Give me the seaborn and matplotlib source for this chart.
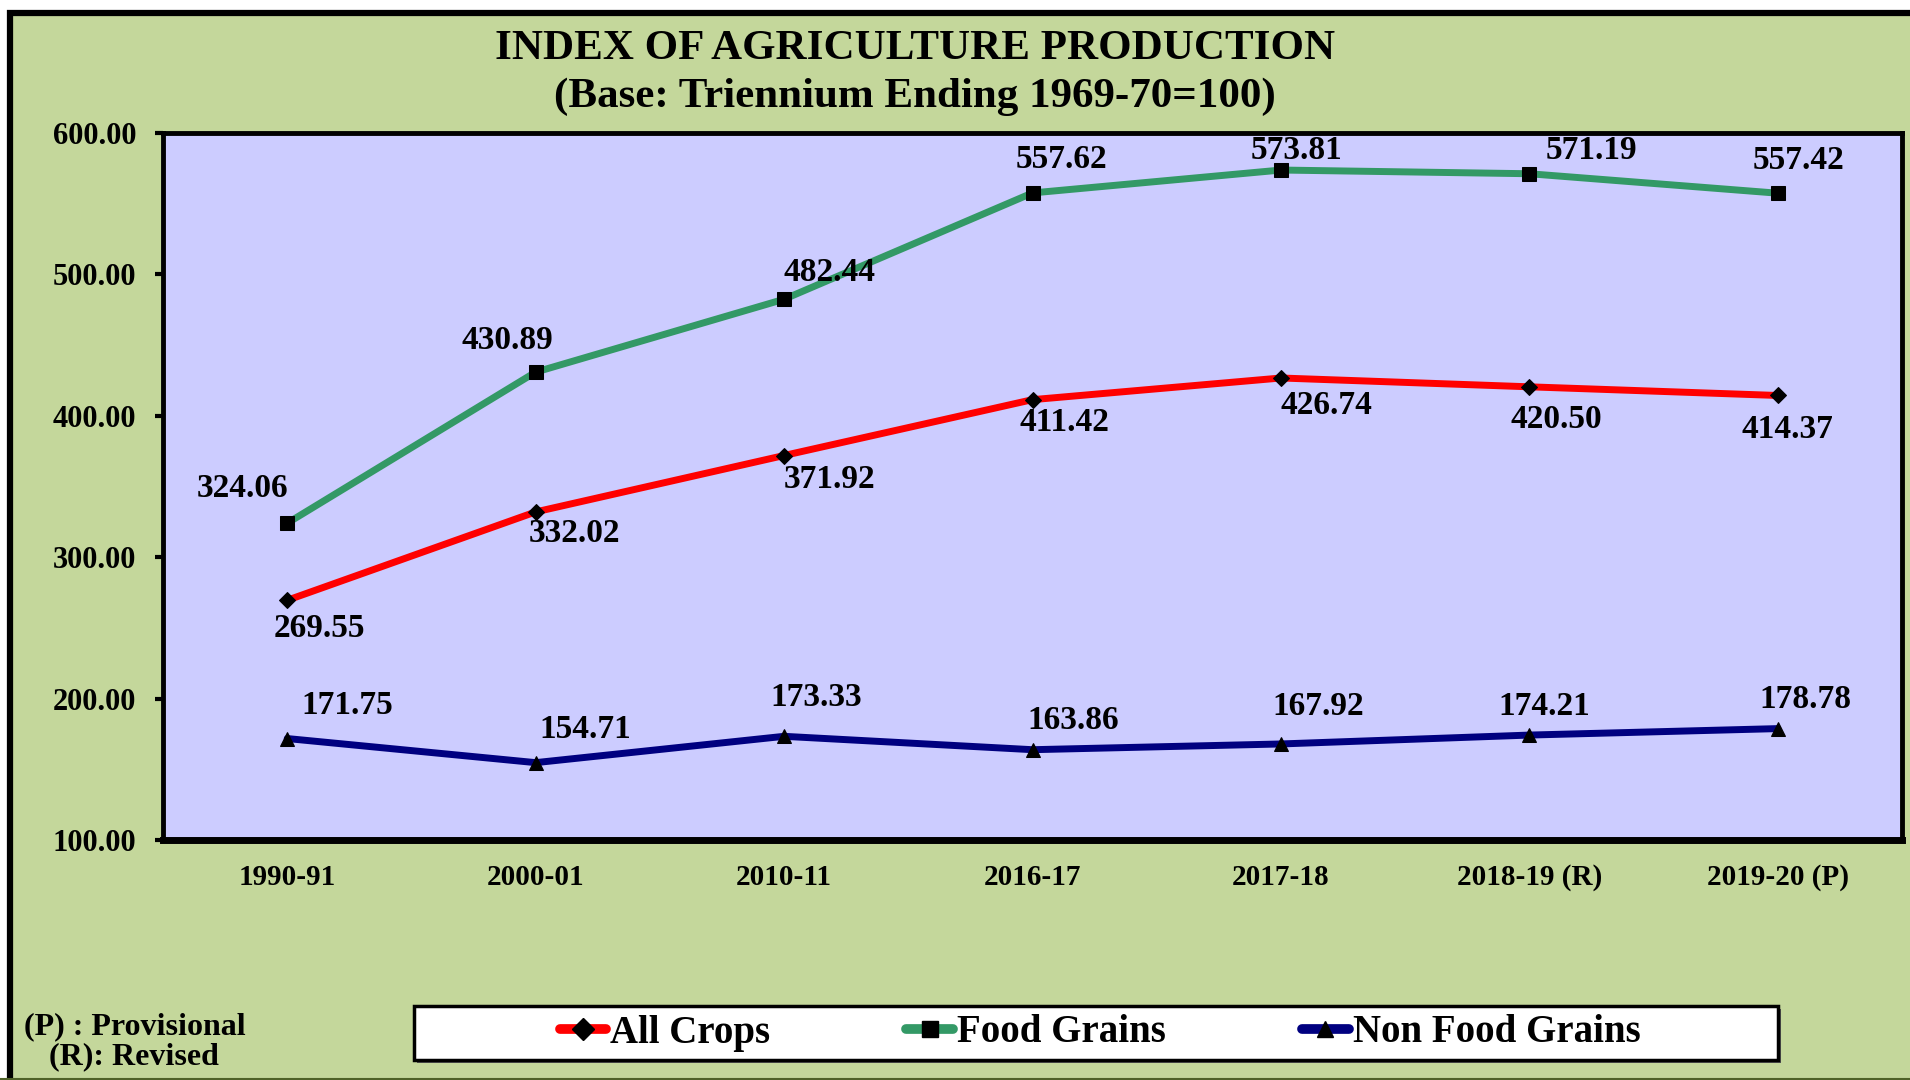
import pandas as pd
import matplotlib
matplotlib.use("Agg")
import matplotlib.pyplot as plt
import matplotlib.patches as mpatches
from matplotlib.lines import Line2D
import seaborn as sns

years = ["1990-91", "2000-01", "2010-11", "2016-17", "2017-18", "2018-19 (R)", "2019-20 (P)"]
all_crops = [269.55, 332.02, 371.92, 411.42, 426.74, 420.50, 414.37]
food_grains = [324.06, 430.89, 482.44, 557.62, 573.81, 571.19, 557.42]
non_food_grains = [171.75, 154.71, 173.33, 163.86, 167.92, 174.21, 178.78]
y_ticks = [100, 200, 300, 400, 500, 600]

# label offsets in pixels (dx, dy) for each point
offsets = {
    "Food Grains": [(-45, 35), (-28, 32), (45, 27), (29, 33), (16, 20), (62, 23), (21, 33)],
    "All Crops": [(32, -28), (39, -22), (45, -24), (32, -23), (46, -28), (27, -33), (10, -34)],
    "Non Food Grains": [(60, 33), (50, 33), (32, 39), (41, 29), (37, 37), (15, 29), (28, 29)],
}

if __name__ == "__main__":
    sns.set_style("white")
    plt.rcParams["font.family"] = ["Liberation Serif", "DejaVu Serif"]
    plt.rcParams["font.weight"] = "bold"
    plt.rcParams["text.color"] = "black"
    plt.rcParams["xtick.color"] = "black"
    plt.rcParams["ytick.color"] = "black"

    fig = plt.figure(figsize=(19.1, 10.8), dpi=100, facecolor="white")
    # outer green frame
    frame = mpatches.Rectangle((10 / 1910, -0.05), 1.05, 1.05 - 13 / 1080, transform=fig.transFigure,
                               facecolor="#C4D79B", edgecolor="black", linewidth=4.5, zorder=-5)
    fig.patches.append(frame)
    fig.add_artist(Line2D([0, 1], [1 / 1080, 1 / 1080], transform=fig.transFigure,
                          color="#4F6228", linewidth=1.5, zorder=-4))

    ax = fig.add_axes([163 / 1910, 240 / 1080, 1739 / 1910, 707 / 1080], zorder=2)
    ax.set_facecolor("#CCCCFF")

    series = [
        ("All Crops", all_crops, "#FF0000", "D", 8.5),
        ("Food Grains", food_grains, "#339966", "s", 9.5),
        ("Non Food Grains", non_food_grains, "#000080", "^", 10),
    ]
    handles = []
    for name, vals, col, mk, ms in series:
        df = pd.DataFrame({"year": years, "value": vals})
        sns.lineplot(data=df, x="year", y="value", ax=ax, color=col, linewidth=5,
                     marker=mk, markersize=ms, markerfacecolor="black",
                     markeredgecolor="black", sort=False, legend=False)
        for i, v in enumerate(vals):
            dx, dy = offsets[name][i]
            ax.annotate(f"{v:.2f}", (i, v), xytext=(dx, dy), textcoords="offset pixels",
                        ha="center", va="center", fontsize=24, fontweight="bold", color="black")
        handles.append(Line2D([0], [0], color=col, linewidth=7, marker=mk, markersize=11,
                              markerfacecolor="black", markeredgecolor="black", label=name))

    ax.set_xlim(-0.5, 6.5)
    ax.set_ylim(100, 600)
    ax.set_yticks(y_ticks)
    ax.set_yticklabels([f"{t:.2f}" for t in y_ticks])
    ax.set_xlabel("")
    ax.set_ylabel("")
    ax.tick_params(axis="y", direction="out", length=6, width=3, pad=13, labelsize=22, left=True)
    ax.tick_params(axis="x", length=0, pad=17, labelsize=21)
    for lab in ax.get_xticklabels() + ax.get_yticklabels():
        lab.set_fontweight("bold")
    for s in ["top", "right", "left"]:
        ax.spines[s].set_visible(True)
        ax.spines[s].set_color("black")
        ax.spines[s].set_linewidth(3.5)
    ax.spines["bottom"].set_color("black")
    ax.spines["bottom"].set_linewidth(5)

    fig.text(915 / 1910, 1 - 49 / 1080, "INDEX OF AGRICULTURE PRODUCTION", ha="center", va="center",
             fontsize=31, fontweight="bold")
    fig.text(915 / 1910, 1 - 97 / 1080, "(Base: Triennium Ending 1969-70=100)", ha="center", va="center",
             fontsize=31, fontweight="bold")

    fig.text(24 / 1910, 1 - 1027 / 1080, "(P) : Provisional", ha="left", va="center", fontsize=23,
             fontweight="bold")
    fig.text(49 / 1910, 1 - 1057 / 1080, "(R): Revised", ha="left", va="center", fontsize=23,
             fontweight="bold")

    # legend box with a small shadow
    shadow = mpatches.Rectangle((417 / 1910, 1 - 1063 / 1080), 1364 / 1910, 54 / 1080, transform=fig.transFigure,
                                facecolor="#555555", edgecolor="none", zorder=0.5)
    fig.patches.append(shadow)
    box = mpatches.Rectangle((414 / 1910, 1 - 1060 / 1080), 1364 / 1910, 54 / 1080, transform=fig.transFigure,
                             facecolor="white", edgecolor="black", linewidth=2.5, zorder=1)
    fig.patches.append(box)
    leg = fig.legend(handles=handles, loc="center", bbox_to_anchor=(1100 / 1910, 1 - 1033 / 1080),
                     ncol=3, frameon=False, handlelength=1.2, handletextpad=0.1,
                     columnspacing=3.5, prop={"weight": "bold", "size": 28})
    leg.set_zorder(3)

    fig.savefig("out.png", dpi=100, facecolor=fig.get_facecolor())
